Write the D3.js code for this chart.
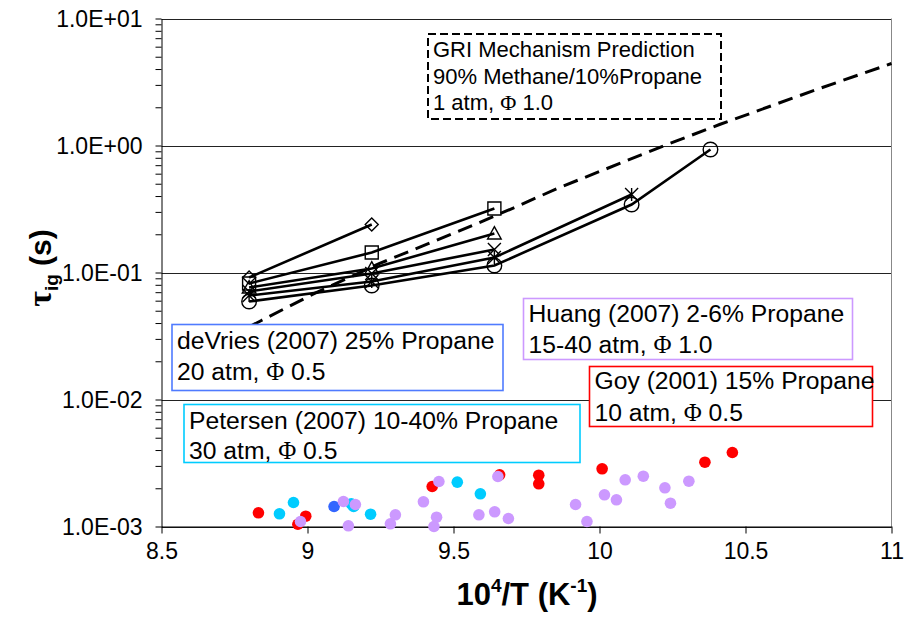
<!DOCTYPE html>
<html>
<head>
<meta charset="utf-8">
<script src="https://cdn.jsdelivr.net/npm/d3@7"></script>
<style>
  body { margin: 0; background: #fff; }
  svg { display: block; }
  text { font-family: Arial, "Liberation Sans", sans-serif; fill: #000; }
</style>
</head>
<body>
<svg id="chart" width="904" height="617"></svg>
<script>
// ---- axis ticks ----
const xTicks = [8.5, 9, 9.5, 10, 10.5, 11];
const xTickLabels = ["8.5", "9", "9.5", "10", "10.5", "11"];
const yTicks = [1e-3, 1e-2, 1e-1, 1, 10];
const yTickLabels = ["1.0E-03", "1.0E-02", "1.0E-01", "1.0E+00", "1.0E+01"];

// ---- measured ignition delays (10^4/T, tau_ig in s), black lines with markers ----
const diamondX  = [8.8, 9.22];
const diamondY  = [0.0913, 0.2388];
const squareX   = [8.8, 9.22, 9.64];
const squareY   = [0.0819, 0.1437, 0.319];
const triangleX = [8.8, 9.22, 9.64];
const triangleY = [0.0762, 0.1075, 0.2028];
const crossX    = [8.8, 9.22, 9.64];
const crossY    = [0.0709, 0.0983, 0.1517];
const starX     = [8.8, 9.22, 9.64, 10.11];
const starY     = [0.0659, 0.0849, 0.1313, 0.4114];
const circleX   = [8.8, 9.22, 9.64, 10.11, 10.38];
const circleY   = [0.0591, 0.0790, 0.1135, 0.343, 0.930];

// ---- GRI mechanism prediction (dashed) ----
const griX = [8.8, 8.842, 9.024, 9.247, 9.565, 9.709, 9.863, 10.223, 10.411, 10.753, 11.0];
const griY = [0.0373, 0.0419, 0.0684, 0.1178, 0.2344, 0.325, 0.4667, 1.0, 1.463, 2.81, 4.42];

// ---- literature data ----
const goyX = [8.832, 8.967, 8.994, 9.427, 9.658, 9.792, 9.792, 10.009, 10.361, 10.455];
const goyY = [0.001282, 0.001042, 0.001205, 0.002065, 0.002554, 0.002535, 0.002169, 0.002847, 0.003208, 0.003825];
const petersenX = [8.904, 8.952, 9.15, 9.158, 9.216, 9.513, 9.592];
const petersenY = [0.001259, 0.001545, 0.001509, 0.001437, 0.00125, 0.002234, 0.001809];
const deVriesX = [9.091];
const deVriesY = [0.001437];
const huangX = [8.976, 9.123, 9.14, 9.164, 9.284, 9.301, 9.397, 9.433, 9.442, 9.45, 9.587, 9.641, 9.652, 9.688,
                9.918, 9.957, 10.017, 10.058, 10.088, 10.15, 10.224, 10.243, 10.306];
const huangY = [0.001095, 0.001574, 0.001013, 0.00149, 0.00105, 0.001236, 0.001565, 0.001, 0.001184, 0.002262, 0.001236,
                0.001305, 0.002476, 0.001156, 0.00149, 0.001095, 0.001776, 0.001623, 0.002332, 0.00249, 0.002017,
                0.001526, 0.002274];

const svg = d3.select("#chart");
const W = 904, H = 617;
const plotLeft = 161.5, plotRight = 891.5, plotTop = 18.5, plotBottom = 526.5;

const x = d3.scaleLinear().domain([8.5, 11]).range([plotLeft, plotRight]);
const y = d3.scaleLog().domain([1e-3, 10]).range([plotBottom, plotTop]);

svg.append("rect").attr("width", W).attr("height", H).attr("fill", "#fff");

// horizontal gridlines at each decade
svg.append("g").selectAll("line").data(yTicks).join("line")
  .attr("x1", plotLeft).attr("x2", plotRight)
  .attr("y1", d => Math.round(y(d)) + 0.5).attr("y2", d => Math.round(y(d)) + 0.5)
  .attr("stroke", "#222").attr("stroke-width", 1);

// plot-area right border
svg.append("line").attr("x1", plotRight).attr("x2", plotRight).attr("y1", plotTop).attr("y2", plotBottom)
  .attr("stroke", "#888").attr("stroke-width", 1);

// y axis: major and minor ticks
const minors = [];
for (let e = -3; e < 1; e++) for (let m = 2; m <= 9; m++) minors.push(m * Math.pow(10, e));

const yAxis = svg.append("g").attr("transform", `translate(${plotLeft},0)`)
  .call(d3.axisLeft(y).tickValues(yTicks).tickFormat((d, i) => yTickLabels[i]).tickSize(6).tickPadding(13).tickSizeOuter(0));
yAxis.selectAll("text").style("font-size", "23px").attr("dy", "0.36em");
yAxis.select(".domain").attr("stroke", "#000");
yAxis.selectAll(".tick line").attr("stroke", "#000");

svg.append("g").attr("transform", `translate(${plotLeft},0)`)
  .call(d3.axisLeft(y).tickValues(minors).tickFormat("").tickSize(6).tickSizeOuter(0))
  .call(g => g.select(".domain").remove())
  .selectAll(".tick line").attr("stroke", "#000");

// x axis
const xAxis = svg.append("g").attr("transform", `translate(0,${plotBottom})`)
  .call(d3.axisBottom(x).tickValues(xTicks).tickFormat((d, i) => xTickLabels[i]).tickSize(7).tickPadding(9).tickSizeOuter(0));
xAxis.selectAll("text").style("font-size", "23px");
xAxis.select(".domain").attr("stroke", "#000");
xAxis.selectAll(".tick line").attr("stroke", "#000");

// axis titles
const yt = svg.append("text")
  .attr("transform", "translate(51,268) rotate(-90)")
  .attr("text-anchor", "middle")
  .style("font-size", "30px").style("font-weight", "bold");
yt.append("tspan").style("font-family", "'Liberation Serif','DejaVu Serif',serif").style("font-size", "34px").text("τ");
yt.append("tspan").attr("dy", 7).style("font-size", "19px").text("ig");
yt.append("tspan").attr("dy", -7).text(" (s)");

const xt = svg.append("text")
  .attr("x", 527).attr("y", 605)
  .attr("text-anchor", "middle")
  .style("font-size", "31px").style("font-weight", "bold");
xt.append("tspan").text("10");
xt.append("tspan").attr("dy", -13).style("font-size", "19px").text("4");
xt.append("tspan").attr("dy", 13).text("/T (K");
xt.append("tspan").attr("dy", -13).style("font-size", "19px").text("-1");
xt.append("tspan").attr("dy", 13).text(")");

// GRI prediction curve
const line = d3.line().x(d => x(d[0])).y(d => y(d[1]));
svg.append("path")
  .datum(d3.zip(griX, griY))
  .attr("d", line)
  .attr("fill", "none").attr("stroke", "#000").attr("stroke-width", 3)
  .attr("stroke-dasharray", "15,8");

// literature scatter points
const scatterSets = [
  { xs: goyX, ys: goyY, color: "#FF0000" },
  { xs: petersenX, ys: petersenY, color: "#00CCFF" },
  { xs: deVriesX, ys: deVriesY, color: "#3366FF" },
  { xs: huangX, ys: huangY, color: "#CC99FF" }
];
scatterSets.forEach(s => {
  svg.append("g").selectAll("circle").data(d3.zip(s.xs, s.ys)).join("circle")
    .attr("cx", d => x(d[0])).attr("cy", d => y(d[1])).attr("r", 5.8)
    .attr("fill", s.color);
});

// marker shapes
const markerPath = {
  diamond: r => `M0,${-r}L${r},0L0,${r}L${-r},0Z`,
  square: r => `M${-r},${-r}H${r}V${r}H${-r}Z`,
  triangle: r => `M0,${-r}L${r},${r * 0.8}L${-r},${r * 0.8}Z`,
  cross: r => `M${-r},${-r}L${r},${r}M${r},${-r}L${-r},${r}`,
  star: r => `M${-r},${-r}L${r},${r}M${r},${-r}L${-r},${r}M0,${-r}V${r}`,
  circle: r => `M${r},0A${r},${r} 0 1,1 ${-r},0A${r},${r} 0 1,1 ${r},0Z`
};

const series = [
  { xs: diamondX, ys: diamondY, shape: "diamond", r: 6.5 },
  { xs: squareX, ys: squareY, shape: "square", r: 6.5 },
  { xs: triangleX, ys: triangleY, shape: "triangle", r: 6.8 },
  { xs: crossX, ys: crossY, shape: "cross", r: 6.5 },
  { xs: starX, ys: starY, shape: "star", r: 6.5 },
  { xs: circleX, ys: circleY, shape: "circle", r: 7.3 }
];
series.forEach(s => {
  const pts = d3.zip(s.xs, s.ys);
  svg.append("path").datum(pts).attr("d", line)
    .attr("fill", "none").attr("stroke", "#000").attr("stroke-width", 2.6);
  svg.append("g").selectAll("path").data(pts).join("path")
    .attr("transform", d => `translate(${x(d[0])},${y(d[1])})`)
    .attr("d", markerPath[s.shape](s.r))
    .attr("fill", "none").attr("stroke", "#000").attr("stroke-width", 1.4);
});

// text boxes
const PHI = "'Liberation Serif','DejaVu Serif',serif";
const notes = [
  { x: 428, y: 34, w: 293, h: 85, stroke: "#000", dash: "8,4", sw: 2, size: 22, first: 23, gap: 26.5,
    lines: [["GRI Mechanism Prediction"], ["90% Methane/10%Propane"], ["1 atm, ", "Φ", " 1.0"]] },
  { x: 172, y: 324.5, w: 331, h: 66, stroke: "#4F7BFF", sw: 1.6, size: 24.7, first: 24, gap: 31,
    lines: [["deVries (2007) 25% Propane"], ["20 atm, ", "Φ", " 0.5"]] },
  { x: 523.5, y: 298.5, w: 329, h: 61, stroke: "#CC99FF", sw: 1.6, size: 24.7, first: 23.3, gap: 31.6,
    lines: [["Huang (2007) 2-6% Propane"], ["15-40 atm, ", "Φ", " 1.0"]] },
  { x: 589.5, y: 366.5, w: 283, h: 60, stroke: "#FF0000", sw: 1.6, size: 24.7, first: 22.5, gap: 31.6,
    lines: [["Goy (2001) 15% Propane"], ["10 atm, ", "Φ", " 0.5"]] },
  { x: 184, y: 404.5, w: 396, h: 58, stroke: "#00CCFF", sw: 1.6, size: 24.7, first: 24, gap: 30.7,
    lines: [["Petersen (2007) 10-40% Propane"], ["30 atm, ", "Φ", " 0.5"]] }
];
notes.forEach(n => {
  const g = svg.append("g");
  g.append("rect").attr("x", n.x).attr("y", n.y).attr("width", n.w).attr("height", n.h)
    .attr("fill", "#fff").attr("stroke", n.stroke).attr("stroke-width", n.sw)
    .attr("stroke-dasharray", n.dash || null);
  n.lines.forEach((parts, i) => {
    const t = g.append("text").attr("x", n.x + 5).attr("y", n.y + n.first + i * n.gap)
      .style("font-size", n.size + "px");
    parts.forEach(p => {
      const ts = t.append("tspan").text(p);
      if (p === "Φ") ts.style("font-family", PHI);
    });
  });
});
</script>
</body>
</html>
